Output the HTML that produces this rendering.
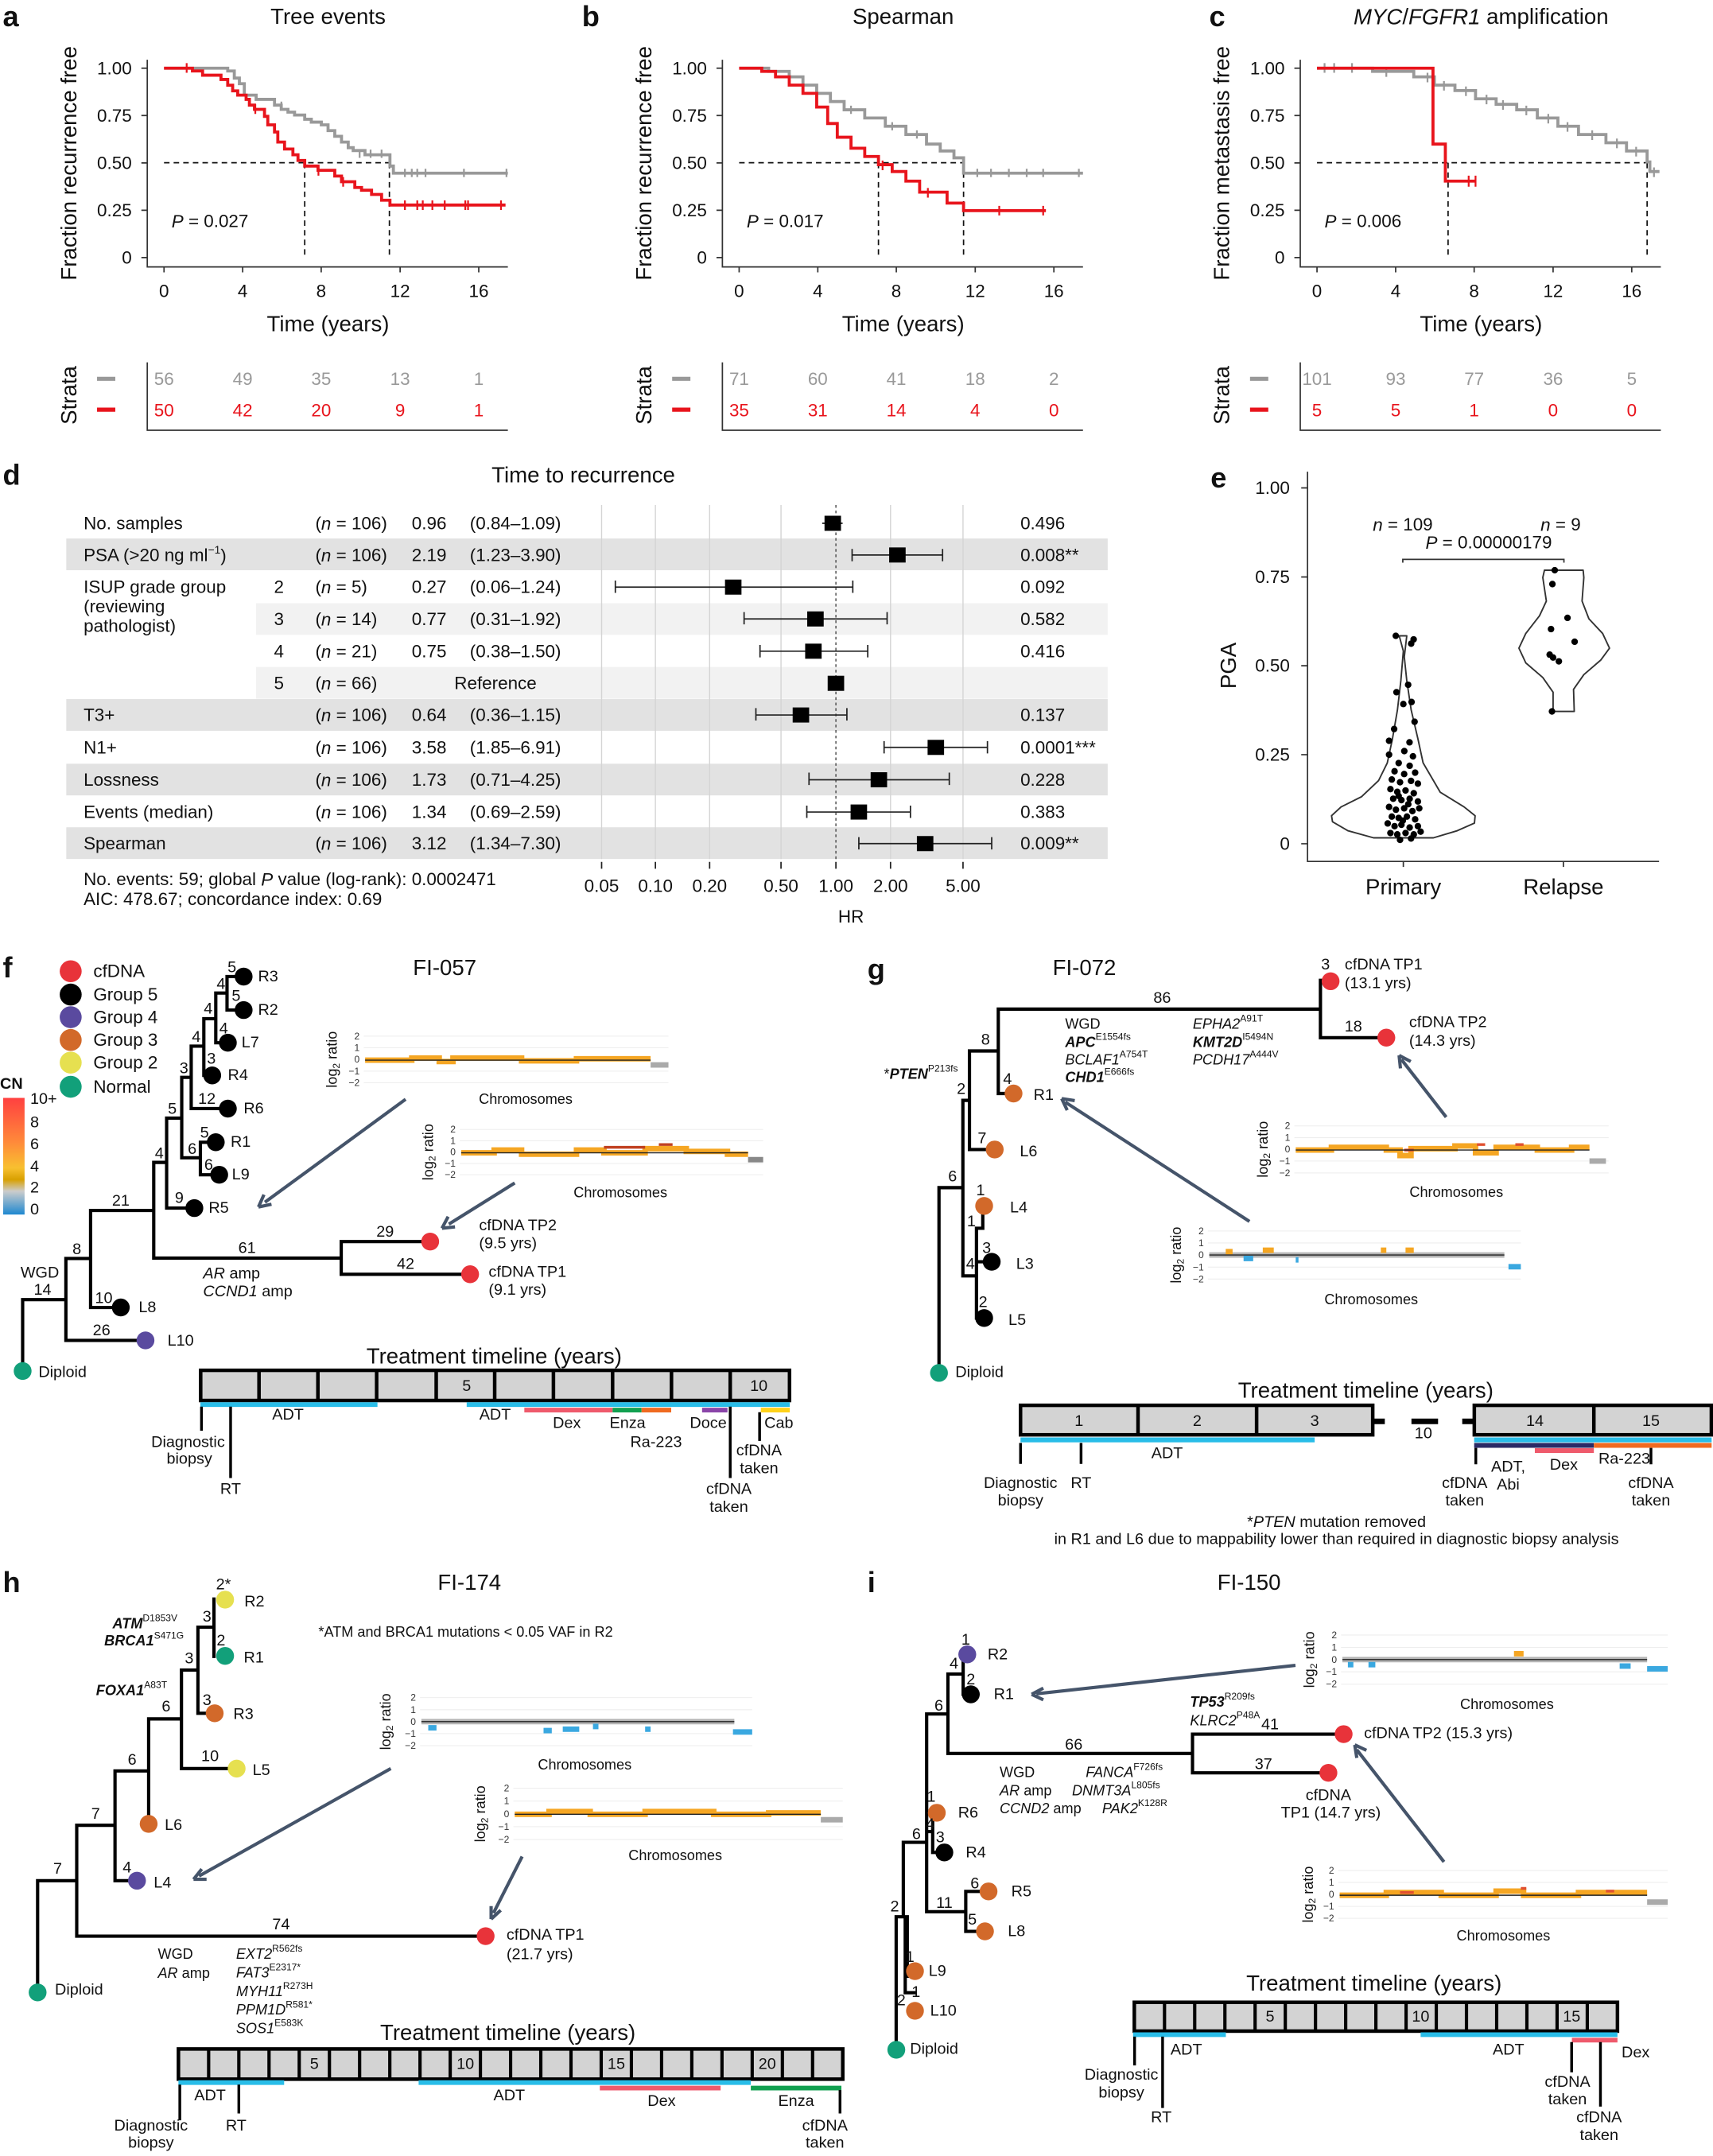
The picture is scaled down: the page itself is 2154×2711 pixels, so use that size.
<!DOCTYPE html>
<html><head><meta charset="utf-8"><style>
html,body{margin:0;padding:0;background:#fff}
svg{display:block}
text{font-family:"Liberation Sans",sans-serif;dominant-baseline:central;fill:#111}
.n{font-family:"Liberation Sans Narrow","Liberation Sans",sans-serif}
.b{font-weight:bold}
.i{font-style:italic}
.m{text-anchor:middle}
.e{text-anchor:end}
.L{font-size:21px;font-weight:bold}
.t{font-size:16px}
.k{font-size:13px}
.s{font-size:11.5px}
.x{font-size:10.5px}
.y{font-size:7px;fill:#333}
</style></head><body>
<svg width="2154" height="2711" viewBox="0 0 1248 1571" preserveAspectRatio="none" xmlns="http://www.w3.org/2000/svg">
<rect width="1248" height="1571" fill="#fff"/>

<!-- ================= a ================= -->
<text x="2" y="12" class="L">a</text>
<text x="239" y="12" class="t m">Tree events</text>
<text class="t m" transform="translate(50,119) rotate(-90)">Fraction recurrence free</text>
<g stroke="#333" stroke-width="1" fill="none">
<path d="M107.3,43.5 V194.5 H370"/>
<path d="M103,49.7H107.3M103,84.2H107.3M103,118.7H107.3M103,153.2H107.3M103,187.7H107.3"/>
<path d="M119.5,194.5v4M176.8,194.5v4M234,194.5v4M291.5,194.5v4M348.8,194.5v4"/>
</g>
<g class="k"><text x="96" y="49.7" class="e k">1.00</text><text x="96" y="84.2" class="e k">0.75</text><text x="96" y="118.7" class="e k">0.50</text><text x="96" y="153.2" class="e k">0.25</text><text x="96" y="187.7" class="e k">0</text>
<text x="119.5" y="212" class="m k">0</text><text x="176.8" y="212" class="m k">4</text><text x="234" y="212" class="m k">8</text><text x="291.5" y="212" class="m k">12</text><text x="348.8" y="212" class="m k">16</text></g>
<text x="239" y="236" class="t m">Time (years)</text>
<path d="M119.5,118.6H283.7M222,118.6V187.7M283.7,118.6V187.7" stroke="#111" stroke-dasharray="4,3" fill="none"/>
<path d="M119.5,49.7 H165.9 V51.7 H170.7 V56.9 H174.4 V61 H178 V69.3 H186.6 V72.4 H200 V76.6 H204.9 V79.7 H209.8 V81.7 H214.6 V83.8 H222 V86.9 H226.8 V89 H234.1 V91 H239 V95.2 H243.9 V99.3 H248.8 V103.5 H253.7 V107.6 H257.3 V109.7 H265.9 V112.8 H284.1 V121 H286.6 V126.2 H370" stroke="#999" stroke-width="2.2" fill="none"/>
<path d="M295,123v6M300,123v6M304,123v6M310,123v6M338,123v6M369,123v6M205,74v6M262,109v6M270,109v6M278,109v6" stroke="#999" stroke-width="1.3"/>
<path d="M119.5,49.7 H140.2 V51.7 H147.6 V54.8 H161 V57.9 H165.9 V62.1 H169.5 V66.2 H173.2 V69.3 H179.3 V72.4 H181.7 V76.6 H185.4 V79.7 H192.7 V84.8 H195.1 V91 H200 V96.2 H202.4 V103.5 H207.3 V108.6 H213.4 V112.8 H217.1 V116.9 H222 V121 H231.7 V124.1 H243.9 V128.3 H248.8 V132.4 H258.5 V136.6 H263.4 V138.6 H270.7 V141.7 H278 V145.9 H284.1 V149.4 H368.3" stroke="#e8141c" stroke-width="2.2" fill="none"/>
<path d="M136,46v7M295,146v7M304,146v7M308,146v7M315,146v7M324,146v7M339,146v7M341,146v7M365,146v7M186,76v7M232,121v7M250,129v7" stroke="#e8141c" stroke-width="1.3"/>
<text x="125" y="161" class="k"><tspan class="i">P</tspan> = 0.027</text>
<text class="t m" transform="translate(50,288) rotate(-90)">Strata</text>
<path d="M70.7,276H84" stroke="#999" stroke-width="3"/><path d="M70.7,298.5H84" stroke="#e8141c" stroke-width="3"/>
<path d="M107.3,264V313.5H370" stroke="#333" fill="none"/>
<text x="119.5" y="276" class="m k" style="fill:#999">56</text><text x="176.8" y="276" class="m k" style="fill:#999">49</text><text x="234" y="276" class="m k" style="fill:#999">35</text><text x="291.5" y="276" class="m k" style="fill:#999">13</text><text x="348.8" y="276" class="m k" style="fill:#999">1</text>
<text x="119.5" y="299" class="m k" style="fill:#e8141c">50</text><text x="176.8" y="299" class="m k" style="fill:#e8141c">42</text><text x="234" y="299" class="m k" style="fill:#e8141c">20</text><text x="291.5" y="299" class="m k" style="fill:#e8141c">9</text><text x="348.8" y="299" class="m k" style="fill:#e8141c">1</text>

<!-- ================= b ================= -->
<text x="424" y="12" class="L">b</text>
<text x="658" y="12" class="t m">Spearman</text>
<text class="t m" transform="translate(469,119) rotate(-90)">Fraction recurrence free</text>
<g stroke="#333" stroke-width="1" fill="none">
<path d="M526.3,43.5 V194.5 H789"/>
<path d="M522,49.7H526.3M522,84.2H526.3M522,118.7H526.3M522,153.2H526.3M522,187.7H526.3"/>
<path d="M538.5,194.5v4M595.8,194.5v4M653,194.5v4M710.5,194.5v4M767.8,194.5v4"/>
</g>
<text x="515" y="49.7" class="e k">1.00</text><text x="515" y="84.2" class="e k">0.75</text><text x="515" y="118.7" class="e k">0.50</text><text x="515" y="153.2" class="e k">0.25</text><text x="515" y="187.7" class="e k">0</text>
<text x="538.5" y="212" class="m k">0</text><text x="595.8" y="212" class="m k">4</text><text x="653" y="212" class="m k">8</text><text x="710.5" y="212" class="m k">12</text><text x="767.8" y="212" class="m k">16</text>
<text x="658" y="236" class="t m">Time (years)</text>
<path d="M538.5,118.6H702M640,118.6V187.7M702,118.6V187.7" stroke="#111" stroke-dasharray="4,3" fill="none"/>
<path d="M538.5,49.7 H560 V52 H575 V56 H585 V62 H595 V68 H605 V74 H615 V80 H630 V86 H645 V92 H660 V98 H675 V105 H685 V110 H695 V115 H702 V126.2 H789" stroke="#999" stroke-width="2.2" fill="none"/>
<path d="M712,123v6M722,123v6M735,123v6M748,123v6M760,123v6M786,123v6M620,77v6M650,89v6M668,95v6" stroke="#999" stroke-width="1.3"/>
<path d="M538.5,49.7 H555 V52 H565 V56 H575 V62 H585 V68 H595 V78 H603 V90 H610 V100 H620 V108 H630 V114 H640 V120 H650 V125 H660 V132 H670 V140 H690 V148 H702 V153.5 H762" stroke="#e8141c" stroke-width="2.2" fill="none"/>
<path d="M728,150v7M760,150v7M676,137v7M643,117v7" stroke="#e8141c" stroke-width="1.3"/>
<text x="544" y="161" class="k"><tspan class="i">P</tspan> = 0.017</text>
<text class="t m" transform="translate(469,288) rotate(-90)">Strata</text>
<path d="M489.7,276H503" stroke="#999" stroke-width="3"/><path d="M489.7,298.5H503" stroke="#e8141c" stroke-width="3"/>
<path d="M526.3,264V313.5H789" stroke="#333" fill="none"/>
<text x="538.5" y="276" class="m k" style="fill:#999">71</text><text x="595.8" y="276" class="m k" style="fill:#999">60</text><text x="653" y="276" class="m k" style="fill:#999">41</text><text x="710.5" y="276" class="m k" style="fill:#999">18</text><text x="767.8" y="276" class="m k" style="fill:#999">2</text>
<text x="538.5" y="299" class="m k" style="fill:#e8141c">35</text><text x="595.8" y="299" class="m k" style="fill:#e8141c">31</text><text x="653" y="299" class="m k" style="fill:#e8141c">14</text><text x="710.5" y="299" class="m k" style="fill:#e8141c">4</text><text x="767.8" y="299" class="m k" style="fill:#e8141c">0</text>

<!-- ================= c ================= -->
<text x="881" y="12" class="L">c</text>
<text x="1079" y="12" class="t m"><tspan class="i">MYC</tspan>/<tspan class="i">FGFR1</tspan> amplification</text>
<text class="t m" transform="translate(890,119) rotate(-90)">Fraction metastasis free</text>
<g stroke="#333" stroke-width="1" fill="none">
<path d="M947.3,43.5 V194.5 H1210"/>
<path d="M943,49.7H947.3M943,84.2H947.3M943,118.7H947.3M943,153.2H947.3M943,187.7H947.3"/>
<path d="M959.5,194.5v4M1016.8,194.5v4M1074,194.5v4M1131.5,194.5v4M1188.8,194.5v4"/>
</g>
<text x="936" y="49.7" class="e k">1.00</text><text x="936" y="84.2" class="e k">0.75</text><text x="936" y="118.7" class="e k">0.50</text><text x="936" y="153.2" class="e k">0.25</text><text x="936" y="187.7" class="e k">0</text>
<text x="959.5" y="212" class="m k">0</text><text x="1016.8" y="212" class="m k">4</text><text x="1074" y="212" class="m k">8</text><text x="1131.5" y="212" class="m k">12</text><text x="1188.8" y="212" class="m k">16</text>
<text x="1079" y="236" class="t m">Time (years)</text>
<path d="M959.5,118.6H1200M1055,118.6V187.7M1200,118.6V187.7" stroke="#111" stroke-dasharray="4,3" fill="none"/>
<path d="M959.5,49.7 H1000 V52 H1030 V56 H1045 V62 H1060 V66 H1075 V72 H1090 V76 H1105 V80 H1120 V86 H1135 V92 H1150 V98 H1170 V104 H1185 V110 H1200 V118 H1202 V125 H1209" stroke="#999" stroke-width="2.2" fill="none"/>
<path d="M965,46v7M972,46v7M985,46v7M1010,49v7M1040,53v7M1052,59v7M1068,63v7M1083,69v7M1095,73v7M1112,77v7M1128,83v7M1142,89v7M1160,95v7M1178,101v7M1192,107v7M1205,122v7" stroke="#999" stroke-width="1.3"/>
<path d="M959.5,49.7 H1044 V105 H1053 V132 H1075" stroke="#e8141c" stroke-width="2.2" fill="none"/>
<path d="M1070,128v8M1075,128v8" stroke="#e8141c" stroke-width="1.3"/>
<text x="965" y="161" class="k"><tspan class="i">P</tspan> = 0.006</text>
<text class="t m" transform="translate(890,288) rotate(-90)">Strata</text>
<path d="M910.7,276H924" stroke="#999" stroke-width="3"/><path d="M910.7,298.5H924" stroke="#e8141c" stroke-width="3"/>
<path d="M947.3,264V313.5H1210" stroke="#333" fill="none"/>
<text x="959.5" y="276" class="m k" style="fill:#999">101</text><text x="1016.8" y="276" class="m k" style="fill:#999">93</text><text x="1074" y="276" class="m k" style="fill:#999">77</text><text x="1131.5" y="276" class="m k" style="fill:#999">36</text><text x="1188.8" y="276" class="m k" style="fill:#999">5</text>
<text x="959.5" y="299" class="m k" style="fill:#e8141c">5</text><text x="1016.8" y="299" class="m k" style="fill:#e8141c">5</text><text x="1074" y="299" class="m k" style="fill:#e8141c">1</text><text x="1131.5" y="299" class="m k" style="fill:#e8141c">0</text><text x="1188.8" y="299" class="m k" style="fill:#e8141c">0</text>

<!-- ================= d ================= -->
<text x="2" y="346" class="L">d</text>
<text x="425" y="346" class="t m">Time to recurrence</text>
<rect x="48.3" y="392.4" width="758.7" height="23.1" fill="#e2e2e2"/>
<rect x="186.5" y="439.5" width="620.5" height="23.1" fill="#f2f2f2"/>
<rect x="186.5" y="486" width="620.5" height="23.1" fill="#f2f2f2"/>
<rect x="48.3" y="509.4" width="758.7" height="23.1" fill="#e2e2e2"/>
<rect x="48.3" y="556.5" width="758.7" height="23.1" fill="#e2e2e2"/>
<rect x="48.3" y="602.8" width="758.7" height="23.1" fill="#e2e2e2"/>
<g stroke="#d4d4d4" stroke-width="0.8">
<path d="M438.3,368V626M477.5,368V626M517,368V626M569,368V626M648.8,368V626M701.6,368V626"/></g>
<path d="M609,368V626" stroke="#444" stroke-dasharray="2,2" stroke-width="0.8"/>
<path d="M438.3,628v5M477.5,628v5M517,628v5M569,628v5M609,628v5M648.8,628v5M701.6,628v5" stroke="#222"/>
<g class="n" font-size="13">
<text x="438.3" y="645.5" class="m n">0.05</text><text x="477.5" y="645.5" class="m n">0.10</text><text x="517" y="645.5" class="m n">0.20</text><text x="569" y="645.5" class="m n">0.50</text><text x="609" y="645.5" class="m n">1.00</text><text x="648.8" y="645.5" class="m n">2.00</text><text x="701.6" y="645.5" class="m n">5.00</text>
</g>
<text x="620" y="668" class="k m">HR</text>
<g stroke="#222" stroke-width="1" fill="none">
<path d="M599,381.3H613.9M653.8,404.4H620.8M686.7,404.4H620.8M448.3,427.8H621.3M542.1,451H646.3M553.7,474.5H632.2M550.7,521H617M644.1,544.6H719.4M589.4,568.2H691.6M587.8,591.7H663.3M625.7,614.7H722.5"/>
<path d="M620.8,400v9M686.7,400v9M448.3,423v9M621.3,423v9M542.1,446v9M646.3,446v9M553.7,470v9M632.2,470v9M550.7,516v9M617,516v9M644.1,540v9M719.4,540v9M589.4,563v9M691.6,563v9M587.8,587v9M663.3,587v9M625.7,610v9M722.5,610v9"/>
</g>
<g fill="#000">
<rect x="600.7" y="375.8" width="12" height="11"/><rect x="647.8" y="398.9" width="12" height="11"/><rect x="528.2" y="422.3" width="12" height="11"/><rect x="588.1" y="445.5" width="12" height="11"/><rect x="586.6" y="469" width="12" height="11"/><rect x="603" y="492.4" width="12" height="11"/><rect x="577.5" y="515.5" width="12" height="11"/><rect x="675.8" y="539.1" width="12" height="11"/><rect x="634.3" y="562.7" width="12" height="11"/><rect x="619.7" y="586.2" width="12" height="11"/><rect x="668" y="609.2" width="12" height="11"/>
</g>
<g font-size="13">
<text x="60.9" y="381.3" class="n">No. samples</text>
<text x="60.9" y="404.4" class="n">PSA (&gt;20 ng ml<tspan font-size="8" dy="-4">−1</tspan><tspan dy="4">)</tspan></text>
<text x="60.9" y="427.8" class="n">ISUP grade group</text>
<text x="60.9" y="442" class="n">(reviewing</text>
<text x="60.9" y="456" class="n">pathologist)</text>
<text x="60.9" y="521" class="n">T3+</text>
<text x="60.9" y="544.6" class="n">N1+</text>
<text x="60.9" y="568.2" class="n">Lossness</text>
<text x="60.9" y="591.7" class="n">Events (median)</text>
<text x="60.9" y="614.7" class="n">Spearman</text>
<text x="199.6" y="427.8" class="n">2</text><text x="199.6" y="451" class="n">3</text><text x="199.6" y="474.5" class="n">4</text><text x="199.6" y="497.9" class="n">5</text>
<text x="229.7" y="381.3" class="n">(<tspan class="i">n</tspan> = 106)</text>
<text x="229.7" y="404.4" class="n">(<tspan class="i">n</tspan> = 106)</text>
<text x="229.7" y="427.8" class="n">(<tspan class="i">n</tspan> = 5)</text>
<text x="229.7" y="451" class="n">(<tspan class="i">n</tspan> = 14)</text>
<text x="229.7" y="474.5" class="n">(<tspan class="i">n</tspan> = 21)</text>
<text x="229.7" y="497.9" class="n">(<tspan class="i">n</tspan> = 66)</text>
<text x="229.7" y="521" class="n">(<tspan class="i">n</tspan> = 106)</text>
<text x="229.7" y="544.6" class="n">(<tspan class="i">n</tspan> = 106)</text>
<text x="229.7" y="568.2" class="n">(<tspan class="i">n</tspan> = 106)</text>
<text x="229.7" y="591.7" class="n">(<tspan class="i">n</tspan> = 106)</text>
<text x="229.7" y="614.7" class="n">(<tspan class="i">n</tspan> = 106)</text>
<text x="300" y="381.3" class="n">0.96</text><text x="342.3" y="381.3" class="n">(0.84–1.09)</text>
<text x="300" y="404.4" class="n">2.19</text><text x="342.3" y="404.4" class="n">(1.23–3.90)</text>
<text x="300" y="427.8" class="n">0.27</text><text x="342.3" y="427.8" class="n">(0.06–1.24)</text>
<text x="300" y="451" class="n">0.77</text><text x="342.3" y="451" class="n">(0.31–1.92)</text>
<text x="300" y="474.5" class="n">0.75</text><text x="342.3" y="474.5" class="n">(0.38–1.50)</text>
<text x="331" y="497.9" class="n">Reference</text>
<text x="300" y="521" class="n">0.64</text><text x="342.3" y="521" class="n">(0.36–1.15)</text>
<text x="300" y="544.6" class="n">3.58</text><text x="342.3" y="544.6" class="n">(1.85–6.91)</text>
<text x="300" y="568.2" class="n">1.73</text><text x="342.3" y="568.2" class="n">(0.71–4.25)</text>
<text x="300" y="591.7" class="n">1.34</text><text x="342.3" y="591.7" class="n">(0.69–2.59)</text>
<text x="300" y="614.7" class="n">3.12</text><text x="342.3" y="614.7" class="n">(1.34–7.30)</text>
<text x="743.4" y="381.3" class="n">0.496</text>
<text x="743.4" y="404.4" class="n">0.008**</text>
<text x="743.4" y="427.8" class="n">0.092</text>
<text x="743.4" y="451" class="n">0.582</text>
<text x="743.4" y="474.5" class="n">0.416</text>
<text x="743.4" y="521" class="n">0.137</text>
<text x="743.4" y="544.6" class="n">0.0001***</text>
<text x="743.4" y="568.2" class="n">0.228</text>
<text x="743.4" y="591.7" class="n">0.383</text>
<text x="743.4" y="614.7" class="n">0.009**</text>
<text x="60.9" y="640.7" class="n">No. events: 59; global <tspan class="i">P</tspan> value (log-rank): 0.0002471</text>
<text x="60.9" y="655" class="n">AIC: 478.67; concordance index: 0.69</text>
</g>

<!-- ================= e ================= -->
<text x="882" y="348" class="L">e</text>
<path d="M952.6,343.7V627.7H1208.7" stroke="#333" fill="none"/>
<path d="M948,355.5h4.6M948,420.4h4.6M948,485.1h4.6M948,549.9h4.6M948,614.8h4.6M1022.4,627.7v4M1139,627.7v4" stroke="#333"/>
<text x="939.7" y="355.5" class="e k">1.00</text><text x="939.7" y="420.4" class="e k">0.75</text><text x="939.7" y="485.1" class="e k">0.50</text><text x="939.7" y="549.9" class="e k">0.25</text><text x="939.7" y="614.8" class="e k">0</text>
<text class="t m" transform="translate(895,485) rotate(-90)">PGA</text>
<text x="1022.4" y="646" class="t m">Primary</text><text x="1139" y="646" class="t m">Relapse</text>
<text x="1022" y="382.3" class="k m"><tspan class="i">n</tspan> = 109</text>
<text x="1137" y="382.3" class="k m"><tspan class="i">n</tspan> = 9</text>
<text x="1084.6" y="395.1" class="k m"><tspan class="i">P</tspan> = 0.00000179</text>
<path d="M1022,410V407.6H1139.4V410" stroke="#333" fill="none"/>
<path d="M1000.7,610.5 L982,605.3 L970.8,598.8 L970.1,594.4 L977,588 L992,580.5 L1004.4,568.7 L1010.7,555.9 L1014.4,538.7 L1018.1,517.3 L1020.6,495.9 L1022.4,474.4 L1019.4,463.3 L1024.9,463.3 L1023.1,478.7 L1024.9,495.9 L1028.1,517.3 L1033.1,538.7 L1036.8,555.9 L1049.3,577.3 L1066.7,588 L1074.7,594.4 L1074.2,599.8 L1061.7,605.3 L1044.3,610.5 Z" fill="none" stroke="#333" stroke-width="1.1" stroke-linejoin="round"/>
<path d="M1125.2,415.5 L1124,420.8 L1126.6,438 L1121.6,448.7 L1111.6,461.6 L1106.6,472.3 L1111.6,483 L1124,493.7 L1131.5,504.4 L1131.5,518.4 L1146.9,518.4 L1146.4,502.3 L1153.9,491.6 L1166.3,480.9 L1172.6,472.3 L1167.6,461.6 L1157.6,450.9 L1152.6,438 L1153.9,420.8 L1153.4,415.5 Z" fill="none" stroke="#333" stroke-width="1.1" stroke-linejoin="round"/>
<g fill="#000">
<circle cx="1132.7" cy="415.5" r="2.4"/><circle cx="1131" cy="425.6" r="2.4"/><circle cx="1142" cy="450.2" r="2.4"/><circle cx="1130" cy="458.4" r="2.4"/><circle cx="1147.2" cy="467.6" r="2.4"/><circle cx="1129" cy="477" r="2.4"/><circle cx="1131.5" cy="479.1" r="2.4"/><circle cx="1135.7" cy="481.9" r="2.4"/><circle cx="1130.7" cy="518.4" r="2.4"/>
<circle cx="1016.9" cy="463.3" r="2.4"/><circle cx="1029.9" cy="465.9" r="2.4"/><circle cx="1028.1" cy="469" r="2.4"/><circle cx="1017.4" cy="504.4" r="2.4"/><circle cx="1025.9" cy="499" r="2.4"/><circle cx="1022.4" cy="513" r="2.4"/><circle cx="1028.4" cy="511.5" r="2.4"/><circle cx="1030.6" cy="525.9" r="2.4"/><circle cx="1015.7" cy="531.2" r="2.4"/><circle cx="1012" cy="539.8" r="2.4"/><circle cx="1026.9" cy="540.9" r="2.4"/><circle cx="1012" cy="549.9" r="2.4"/><circle cx="1023.1" cy="547.3" r="2.4"/><circle cx="1029.4" cy="551.1" r="2.4"/>
<circle cx="1019" cy="556" r="2.4"/><circle cx="1027" cy="558" r="2.4"/><circle cx="1016" cy="562" r="2.4"/><circle cx="1023" cy="564" r="2.4"/><circle cx="1031" cy="563" r="2.4"/><circle cx="1014" cy="568" r="2.4"/><circle cx="1020" cy="570" r="2.4"/><circle cx="1028" cy="569" r="2.4"/><circle cx="1033" cy="571" r="2.4"/><circle cx="1013" cy="575" r="2.4"/><circle cx="1018" cy="577" r="2.4"/><circle cx="1024" cy="576" r="2.4"/><circle cx="1030" cy="578" r="2.4"/><circle cx="1015" cy="582" r="2.4"/><circle cx="1021" cy="583" r="2.4"/><circle cx="1027" cy="582" r="2.4"/><circle cx="1033" cy="584" r="2.4"/><circle cx="1012" cy="588" r="2.4"/><circle cx="1017" cy="590" r="2.4"/><circle cx="1023" cy="589" r="2.4"/><circle cx="1029" cy="591" r="2.4"/><circle cx="1034" cy="589" r="2.4"/><circle cx="1014" cy="595" r="2.4"/><circle cx="1019" cy="596" r="2.4"/><circle cx="1025" cy="595" r="2.4"/><circle cx="1031" cy="597" r="2.4"/><circle cx="1011" cy="600" r="2.4"/><circle cx="1016" cy="602" r="2.4"/><circle cx="1021" cy="601" r="2.4"/><circle cx="1027" cy="603" r="2.4"/><circle cx="1033" cy="602" r="2.4"/><circle cx="1013" cy="607" r="2.4"/><circle cx="1018" cy="608" r="2.4"/><circle cx="1024" cy="607" r="2.4"/><circle cx="1030" cy="608" r="2.4"/><circle cx="1035" cy="606" r="2.4"/><circle cx="1020" cy="612" r="2.4"/><circle cx="1028" cy="611" r="2.4"/><circle cx="1022" cy="598" r="2.4"/><circle cx="1026" cy="586" r="2.4"/><circle cx="1019" cy="580" r="2.4"/>
</g>

<!-- ================= f ================= -->
<text x="2" y="705" class="L">f</text>
<text x="324" y="705" class="t m">FI-057</text>
<g class="k">
<circle cx="51.5" cy="707.7" r="8" fill="#e8333a"/><text x="68" y="707.7" class="k">cfDNA</text>
<circle cx="51.5" cy="724.7" r="8" fill="#000"/><text x="68" y="724.7" class="k">Group 5</text>
<circle cx="51.5" cy="741.2" r="8" fill="#5a4a9f"/><text x="68" y="741.2" class="k">Group 4</text>
<circle cx="51.5" cy="757.8" r="8" fill="#d2692a"/><text x="68" y="757.8" class="k">Group 3</text>
<circle cx="51.5" cy="774.3" r="8" fill="#e6e050"/><text x="68" y="774.3" class="k">Group 2</text>
<circle cx="51.5" cy="791.9" r="8" fill="#12a07a"/><text x="68" y="791.9" class="k">Normal</text>
</g>
<text x="0" y="789.8" class="s b">CN</text>
<defs><linearGradient id="cn" x1="0" y1="0" x2="0" y2="1">
<stop offset="0" stop-color="#ff4040"/><stop offset="0.38" stop-color="#ff8a3a"/><stop offset="0.6" stop-color="#f8c030"/><stop offset="0.7" stop-color="#d8a000"/><stop offset="0.8" stop-color="#cccccc"/><stop offset="1" stop-color="#1e88d0"/></linearGradient></defs>
<rect x="2.3" y="800" width="15.6" height="85" fill="url(#cn)"/>
<text x="22" y="801" class="s">10+</text><text x="22" y="818" class="s">8</text><text x="22" y="834" class="s">6</text><text x="22" y="850" class="s">4</text><text x="22" y="865.4" class="s">2</text><text x="22" y="881.5" class="s">0</text>
<g stroke="#000" stroke-width="2.4" fill="none" stroke-linecap="square">
<path d="M16.5,999V947H48M48,917V976.7M48,917H66M48,976.7H106M66,882V952.7H88M66,882H112M112,847V916.7H248.6M248.6,904.7V928.5M248.6,904.7H313.4M248.6,928.5H342.5M112,847H121.4M121.4,814.7V880.3H141.6M121.4,814.7H132.4M132.4,785V843.6H146M146,832.3V856M146,832.3H157.2M146,856H159.7M132.4,785H139.3M139.3,762.3V807.8H166M139.3,762.3H148.5M148.5,742.3V783.6H154.6M148.5,742.3H157.2M157.2,723.6V759.8H166M157.2,723.6H165.4M165.4,711.6V736H177.5M165.4,711.6H177.5"/>
</g>
<g>
<circle cx="16.5" cy="999" r="6.5" fill="#12a07a"/><circle cx="106" cy="976.7" r="6.5" fill="#5a4a9f"/><circle cx="88" cy="952.7" r="6.5" fill="#000"/><circle cx="141.6" cy="880.3" r="6.5" fill="#000"/><circle cx="157.2" cy="832.3" r="6.5" fill="#000"/><circle cx="159.7" cy="856" r="6.5" fill="#000"/><circle cx="166" cy="807.8" r="6.5" fill="#000"/><circle cx="154.6" cy="783.6" r="6.5" fill="#000"/><circle cx="166" cy="759.8" r="6.5" fill="#000"/><circle cx="177.5" cy="711.6" r="6.5" fill="#000"/><circle cx="177.5" cy="736" r="6.5" fill="#000"/><circle cx="313.4" cy="904.7" r="6.5" fill="#e8333a"/><circle cx="342.5" cy="928.5" r="6.5" fill="#e8333a"/>
</g>
<g class="s">
<text x="29" y="927.5" class="s m">WGD</text><text x="31" y="940" class="s m">14</text>
<text x="56" y="910.5" class="s m">8</text><text x="74" y="969.5" class="s m">26</text><text x="75.6" y="946" class="s m">10</text><text x="88" y="875" class="s m">21</text><text x="180" y="909.5" class="s m">61</text><text x="280.6" y="897.5" class="s m">29</text><text x="295.5" y="921" class="s m">42</text>
<text x="116" y="840.5" class="s m">4</text><text x="130.6" y="873" class="s m">9</text><text x="125.5" y="808" class="s m">5</text><text x="140" y="837.5" class="s m">6</text><text x="149" y="825.5" class="s m">5</text><text x="152" y="849" class="s m">6</text><text x="134" y="778.5" class="s m">3</text><text x="150.7" y="801" class="s m">12</text><text x="143" y="755.7" class="s m">4</text><text x="154" y="771.6" class="s m">3</text><text x="151.7" y="735" class="s m">4</text><text x="163" y="749.5" class="s m">4</text><text x="161" y="717" class="s m">4</text><text x="169" y="705" class="s m">5</text><text x="172" y="725.7" class="s m">5</text>
<text x="28" y="1000" class="s">Diploid</text><text x="122" y="977" class="s">L10</text><text x="101" y="952.7" class="s">L8</text><text x="152" y="880.3" class="s">R5</text><text x="168" y="832.3" class="s">R1</text><text x="169" y="856" class="s">L9</text><text x="177.5" y="807.8" class="s">R6</text><text x="166" y="783.6" class="s">R4</text><text x="176" y="759.8" class="s">L7</text><text x="188" y="711.6" class="s">R3</text><text x="188" y="736" class="s">R2</text>
<text x="148" y="928" class="s"><tspan class="i">AR</tspan> amp</text><text x="148" y="941" class="s"><tspan class="i">CCND1</tspan> amp</text>
<text x="349" y="893" class="s">cfDNA TP2</text><text x="349" y="906" class="s">(9.5 yrs)</text>
<text x="356" y="927" class="s">cfDNA TP1</text><text x="356" y="940" class="s">(9.1 yrs)</text>
</g>
<!-- CN plots f -->
<g>
<path d="M265,755H487M265,763.5H487M265,780.5H487M265,789H487" stroke="#eee" stroke-width="0.6"/>
<text x="262" y="755" class="y e">2</text><text x="262" y="763.5" class="y e">1</text><text x="262" y="772" class="y e">0</text><text x="262" y="780.5" class="y e">−1</text><text x="262" y="789" class="y e">−2</text>
<text class="x m" transform="translate(242,772) rotate(-90)">log<tspan font-size="7" dy="3">2</tspan><tspan dy="-3"> ratio</tspan></text>
<path d="M266,772.5H300V771H320V773.5H330V771H380V773H420V771.5H474" stroke="#f5a623" stroke-width="4" fill="none"/>
<path d="M474,776H487" stroke="#aaa" stroke-width="4"/>
<path d="M266,772.5H474" stroke="#222" stroke-width="0.8"/>
<text x="383" y="801" class="x m">Chromosomes</text>
</g>
<g>
<path d="M335,823H556M335,831.3H556M335,847.8H556M335,856H556" stroke="#eee" stroke-width="0.6"/>
<text x="332" y="823" class="y e">2</text><text x="332" y="831.3" class="y e">1</text><text x="332" y="839.5" class="y e">0</text><text x="332" y="847.8" class="y e">−1</text><text x="332" y="856" class="y e">−2</text>
<text class="x m" transform="translate(312,839.5) rotate(-90)">log<tspan font-size="7" dy="3">2</tspan><tspan dy="-3"> ratio</tspan></text>
<path d="M336,840H360V838H380V841H420V838H440V840H470V837H500V839H530V841H545" stroke="#f5a623" stroke-width="4" fill="none"/>
<path d="M440,836H470M480,834H490" stroke="#c04020" stroke-width="2"/>
<path d="M545,845H556" stroke="#888" stroke-width="4"/>
<path d="M336,840H545" stroke="#222" stroke-width="0.8"/>
<text x="452" y="869" class="x m">Chromosomes</text>
</g>
<g stroke="#45546a" stroke-width="2.4" fill="none">
<path d="M295.5,801L193,876"/><path d="M188.3,879.5l4,-9m-4,9l9.5,-2"/>
<path d="M375,862L327,892"/><path d="M322,895l4.5,-8.5m-4.5,8.5l9.5,-1"/>
</g>
<!-- timeline f -->
<text x="360" y="988" class="t m">Treatment timeline (years)</text>
<rect x="146.2" y="998.5" width="429" height="22" fill="#d3d3d3" stroke="#000" stroke-width="2.6"/>
<path d="M188.7,998.5v22M231.6,998.5v22M274.4,998.5v22M317.8,998.5v22M360.4,998.5v22M403.2,998.5v22M446.3,998.5v22M489.2,998.5v22M532,998.5v22" stroke="#000" stroke-width="2.6"/>
<text x="340" y="1010" class="s m">5</text><text x="552.8" y="1010" class="s m">10</text>
<path d="M146,1023.5H275M340,1023.5H575.4" stroke="#29bde8" stroke-width="3.4"/>
<path d="M382,1027.5H446.3" stroke="#ef5a6c" stroke-width="3.4"/><path d="M446.3,1027.5H467.4" stroke="#11a050" stroke-width="3.4"/><path d="M467.4,1027.5H489" stroke="#f06a20" stroke-width="3.4"/><path d="M511.5,1027.5H530" stroke="#8a44a8" stroke-width="3.4"/><path d="M554.3,1027.5H575.4" stroke="#ffd21a" stroke-width="3.4"/>
<path d="M146.8,1025V1042.5M168,1025V1077M532,1025V1077M553.4,1029V1050" stroke="#000" stroke-width="2"/>
<g class="s"><text x="209.8" y="1031" class="s m">ADT</text><text x="360.7" y="1031" class="s m">ADT</text><text x="413" y="1037" class="s m">Dex</text><text x="457.2" y="1037" class="s m">Enza</text><text x="478" y="1051" class="s m">Ra-223</text><text x="516" y="1037" class="s m">Doce</text><text x="567.4" y="1037" class="s m">Cab</text>
<text x="137" y="1051" class="s m">Diagnostic</text><text x="138" y="1063" class="s m">biopsy</text><text x="168" y="1085" class="s m">RT</text>
<text x="553" y="1057" class="s m">cfDNA</text><text x="553" y="1070" class="s m">taken</text><text x="531" y="1085" class="s m">cfDNA</text><text x="531" y="1098" class="s m">taken</text></g>

<!-- ================= g ================= -->
<text x="632" y="706" class="L">g</text>
<text x="790" y="705" class="t m">FI-072</text>
<g stroke="#000" stroke-width="2.4" fill="none" stroke-linecap="square">
<path d="M684.1,1000V865.4H701.5M701.5,801.8V929.7M701.5,801.8H706.3M706.3,765.8V837.6H724.7M706.3,765.8H727.3M727.3,735.3V796.8H738.4M727.3,735.3H962M962,714.3V756.1H1010M962,714.3H969.4M701.5,929.7H711.4M711.4,895V960.4H717M711.4,919.4H722.5M711.4,895H716V878.7"/>
</g>
<circle cx="684.1" cy="1000.4" r="6.5" fill="#12a07a"/><circle cx="724.7" cy="837.6" r="6.5" fill="#d2692a"/><circle cx="738.4" cy="796.8" r="6.5" fill="#d2692a"/><circle cx="969.4" cy="715" r="6.5" fill="#e8333a"/><circle cx="1010" cy="756.1" r="6.5" fill="#e8333a"/><circle cx="717" cy="878.7" r="6.5" fill="#d2692a"/><circle cx="722.5" cy="919.4" r="6.5" fill="#000"/><circle cx="717" cy="960.4" r="6.5" fill="#000"/>
<g class="s">
<text x="694" y="857.5" class="s m">6</text><text x="700.3" y="793.6" class="s m">2</text><text x="715.5" y="829.6" class="s m">7</text><text x="718" y="757.6" class="s m">8</text><text x="734" y="786.5" class="s m">4</text><text x="846.7" y="727.2" class="s m">86</text><text x="965.7" y="703" class="s m">3</text><text x="986" y="748" class="s m">18</text><text x="707" y="921" class="s m">4</text><text x="714.4" y="867.6" class="s m">1</text><text x="707.7" y="890" class="s m">1</text><text x="718.8" y="909.4" class="s m">3</text><text x="716.2" y="949" class="s m">2</text>
<text x="696" y="1000" class="s">Diploid</text><text x="743" y="839" class="s">L6</text><text x="753" y="798" class="s">R1</text><text x="735.8" y="880" class="s">L4</text><text x="740.3" y="921" class="s">L3</text><text x="734.7" y="962" class="s">L5</text>
<text x="979.7" y="703" class="s">cfDNA TP1</text><text x="979.7" y="716.5" class="s">(13.1 yrs)</text>
<text x="1026.6" y="745" class="s">cfDNA TP2</text><text x="1026.6" y="758.7" class="s">(14.3 yrs)</text>
</g>
<g class="x">
<text x="644" y="782.5" class="x">*<tspan class="b i">PTEN</tspan><tspan font-size="7" dy="-4">P213fs</tspan></text>
<text x="776" y="746" class="x">WGD</text>
<text x="776" y="759.3" class="x"><tspan class="b i">APC</tspan><tspan font-size="7" dy="-4">E1554fs</tspan></text>
<text x="776" y="772.2" class="x"><tspan class="i">BCLAF1</tspan><tspan font-size="7" dy="-4">A754T</tspan></text>
<text x="776" y="785" class="x"><tspan class="b i">CHD1</tspan><tspan font-size="7" dy="-4">E666fs</tspan></text>
<text x="869" y="746" class="x"><tspan class="i">EPHA2</tspan><tspan font-size="7" dy="-4">A91T</tspan></text>
<text x="869" y="759.3" class="x"><tspan class="b i">KMT2D</tspan><tspan font-size="7" dy="-4">I5494N</tspan></text>
<text x="869" y="772.2" class="x"><tspan class="i">PCDH17</tspan><tspan font-size="7" dy="-4">A444V</tspan></text>
</g>
<g>
<path d="M943,820.4H1172M943,829H1172M943,846H1172M943,854.7H1172" stroke="#eee" stroke-width="0.6"/>
<text x="940" y="820.4" class="y e">2</text><text x="940" y="829" class="y e">1</text><text x="940" y="837.5" class="y e">0</text><text x="940" y="846" class="y e">−1</text><text x="940" y="854.7" class="y e">−2</text>
<text class="x m" transform="translate(920,837.5) rotate(-90)">log<tspan font-size="7" dy="3">2</tspan><tspan dy="-3"> ratio</tspan></text>
<path d="M944,838H970V836H1010V838H1020V842H1028V837H1060V835H1075V840H1090V836H1120V838H1145V836H1158" stroke="#f5a623" stroke-width="4" fill="none"/>
<path d="M1023,838H1030M1076,834H1082M1104,834H1110" stroke="#e05030" stroke-width="2"/>
<path d="M1158,846H1170" stroke="#aaa" stroke-width="4"/>
<path d="M944,838H1158" stroke="#222" stroke-width="0.8"/>
<text x="1061" y="868.6" class="x m">Chromosomes</text>
</g>
<g>
<path d="M880,897H1108M880,905.7H1108M880,923.3H1108M880,932H1108" stroke="#eee" stroke-width="0.6"/>
<text x="877" y="897" class="y e">2</text><text x="877" y="905.7" class="y e">1</text><text x="877" y="914.5" class="y e">0</text><text x="877" y="923.3" class="y e">−1</text><text x="877" y="932" class="y e">−2</text>
<text class="x m" transform="translate(857,914.5) rotate(-90)">log<tspan font-size="7" dy="3">2</tspan><tspan dy="-3"> ratio</tspan></text>
<path d="M881,914.5H1096" stroke="#b5b5b5" stroke-width="4"/>
<path d="M893,912H898M920,911H928M1006,911H1010M1024,911H1030" stroke="#f5a623" stroke-width="4"/>
<path d="M906,917H913M944,918H946M1099,923H1108" stroke="#3aa8e0" stroke-width="4"/>
<path d="M881,914.5H1096" stroke="#222" stroke-width="0.8"/>
<text x="999" y="946.9" class="x m">Chromosomes</text>
</g>
<g stroke="#45546a" stroke-width="2.4" fill="none">
<path d="M1053.6,814L1021,772"/><path d="M1019.3,769l1,9.5m-1,-9.5l8.5,4.5"/>
<path d="M910.3,890L776,803"/><path d="M773.5,800.5l9.5,1.5m-9.5,-1.5l4,8.5"/>
</g>
<!-- timeline g -->
<text x="995" y="1013" class="t m">Treatment timeline (years)</text>
<rect x="743.5" y="1024" width="256.6" height="21.5" fill="#d3d3d3" stroke="#000" stroke-width="2.6"/>
<path d="M829.1,1024v21.5M915.5,1024v21.5" stroke="#000" stroke-width="2.6"/>
<rect x="1074.1" y="1024" width="172.7" height="21.5" fill="#d3d3d3" stroke="#000" stroke-width="2.6"/>
<path d="M1161.2,1024v21.5" stroke="#000" stroke-width="2.6"/>
<path d="M1000,1035.7H1008.9M1028.3,1035.7H1047.7M1065.3,1035.7H1074" stroke="#000" stroke-width="4"/>
<text x="786.1" y="1035.7" class="s m">1</text><text x="872.2" y="1035.7" class="s m">2</text><text x="957.8" y="1035.7" class="s m">3</text><text x="1037" y="1044.5" class="s m">10</text><text x="1118.2" y="1035.7" class="s m">14</text><text x="1202.8" y="1035.7" class="s m">15</text>
<path d="M743.5,1049.2H957.8M1074,1049.2H1247" stroke="#29bde8" stroke-width="3.5"/>
<path d="M1074,1053.2H1161.2" stroke="#2a2a66" stroke-width="3.5"/><path d="M1161.2,1053.2H1247" stroke="#f06a20" stroke-width="3.5"/>
<path d="M1118.2,1057H1161.2" stroke="#ef5a6c" stroke-width="3.5"/>
<path d="M743.5,1051.4V1066.7M787.6,1051.4V1066.7M1075.2,1055V1067M1202.8,1055V1067" stroke="#000" stroke-width="2"/>
<g class="s"><text x="850.3" y="1058.9" class="s m">ADT</text><text x="743.5" y="1080.8" class="s m">Diagnostic</text><text x="743.5" y="1093.6" class="s m">biopsy</text><text x="787.6" y="1080.8" class="s m">RT</text>
<text x="1067.1" y="1080.8" class="s m">cfDNA</text><text x="1067.1" y="1093.6" class="s m">taken</text><text x="1098.8" y="1069" class="s m">ADT,</text><text x="1098.8" y="1081.8" class="s m">Abi</text><text x="1139.3" y="1067.5" class="s m">Dex</text><text x="1183.4" y="1063.2" class="s m">Ra-223</text><text x="1202.8" y="1080.8" class="s m">cfDNA</text><text x="1202.8" y="1093.6" class="s m">taken</text>
<text x="973.7" y="1109.2" class="s m">*<tspan class="i">PTEN</tspan> mutation removed</text>
<text x="973.7" y="1121.5" class="s m">in R1 and L6 due to mappability lower than required in diagnostic biopsy analysis</text></g>

<!-- ================= h ================= -->
<text x="2" y="1153" class="L">h</text>
<text x="342" y="1153" class="t m">FI-174</text>
<text x="232" y="1189" class="x">*ATM and BRCA1 mutations &lt; 0.05 VAF in R2</text>
<g stroke="#000" stroke-width="2.4" fill="none" stroke-linecap="square">
<path d="M27.4,1451.8V1370.4H55.9M55.9,1330V1410.8H353.8M55.9,1330H83.8M83.8,1290.4V1370.4H99.8M83.8,1290.4H108.3M108.3,1252.5V1329M108.3,1252.5H132.2M132.2,1216.9V1288.7H172.4M132.2,1216.9H144.2M144.2,1185.7V1248.4H156.4M144.2,1185.7H155.9M155.9,1165.2V1207"/>
</g>
<circle cx="27.4" cy="1451.8" r="6.5" fill="#12a07a"/><circle cx="353.8" cy="1410.8" r="6.5" fill="#e8333a"/><circle cx="99.8" cy="1370.4" r="6.5" fill="#5a4a9f"/><circle cx="108.3" cy="1329" r="6.5" fill="#d2692a"/><circle cx="172.4" cy="1288.7" r="6.5" fill="#e6e050"/><circle cx="156.4" cy="1248.4" r="6.5" fill="#d2692a"/><circle cx="164" cy="1165.6" r="6.5" fill="#e6e050"/><circle cx="164" cy="1206.6" r="6.5" fill="#12a07a"/>
<g class="s">
<text x="42" y="1361.8" class="s m">7</text><text x="204.8" y="1402.5" class="s m">74</text><text x="69.7" y="1321.8" class="s m">7</text><text x="92.6" y="1361" class="s m">4</text><text x="96.3" y="1282.5" class="s m">6</text><text x="121" y="1243.6" class="s m">6</text><text x="153" y="1279.8" class="s m">10</text><text x="137.8" y="1208.4" class="s m">3</text><text x="150.8" y="1239" class="s m">3</text><text x="150.8" y="1178" class="s m">3</text><text x="162.8" y="1154.6" class="s m">2*</text><text x="161" y="1195.6" class="s m">2</text>
<text x="40" y="1450" class="s">Diploid</text><text x="112" y="1372" class="s">L4</text><text x="120" y="1330" class="s">L6</text><text x="184" y="1290" class="s">L5</text><text x="170" y="1249" class="s">R3</text><text x="178" y="1167" class="s">R2</text><text x="177.6" y="1208" class="s">R1</text>
<text x="369" y="1410" class="s">cfDNA TP1</text><text x="369" y="1424" class="s">(21.7 yrs)</text>
</g>
<g class="x">
<text x="82" y="1183" class="x"><tspan class="b i">ATM</tspan><tspan font-size="7" dy="-4">D1853V</tspan></text>
<text x="76" y="1195.6" class="x"><tspan class="b i">BRCA1</tspan><tspan font-size="7" dy="-4">S471G</tspan></text>
<text x="70" y="1231.8" class="x"><tspan class="b i">FOXA1</tspan><tspan font-size="7" dy="-4">A83T</tspan></text>
<text x="115" y="1423.8" class="x">WGD</text><text x="115" y="1437.7" class="x"><tspan class="i">AR</tspan> amp</text>
<text x="172" y="1423.8" class="x"><tspan class="i">EXT2</tspan><tspan font-size="7" dy="-4">R562fs</tspan></text>
<text x="172" y="1437.5" class="x"><tspan class="i">FAT3</tspan><tspan font-size="7" dy="-4">E2317*</tspan></text>
<text x="172" y="1451" class="x"><tspan class="i">MYH11</tspan><tspan font-size="7" dy="-4">R273H</tspan></text>
<text x="172" y="1464.5" class="x"><tspan class="i">PPM1D</tspan><tspan font-size="7" dy="-4">R581*</tspan></text>
<text x="172" y="1478" class="x"><tspan class="i">SOS1</tspan><tspan font-size="7" dy="-4">E583K</tspan></text>
</g>
<g>
<path d="M306,1237H548M306,1245.8H548M306,1263.2H548M306,1272H548" stroke="#eee" stroke-width="0.6"/>
<text x="303" y="1237" class="y e">2</text><text x="303" y="1245.8" class="y e">1</text><text x="303" y="1254.5" class="y e">0</text><text x="303" y="1263.2" class="y e">−1</text><text x="303" y="1272" class="y e">−2</text>
<text class="x m" transform="translate(281,1254.5) rotate(-90)">log<tspan font-size="7" dy="3">2</tspan><tspan dy="-3"> ratio</tspan></text>
<path d="M307,1254.5H535" stroke="#b5b5b5" stroke-width="4"/>
<path d="M312,1259H318M396,1261H402M410,1260H422M432,1258H436M470,1260H474M534,1262H548" stroke="#3aa8e0" stroke-width="4"/>
<path d="M307,1254.5H535" stroke="#222" stroke-width="0.8"/>
<text x="426" y="1286" class="x m">Chromosomes</text>
</g>
<g>
<path d="M374,1303H614M374,1312.4H614M374,1331H614M374,1340.4H614" stroke="#eee" stroke-width="0.6"/>
<text x="371" y="1303" class="y e">2</text><text x="371" y="1312.4" class="y e">1</text><text x="371" y="1321.7" class="y e">0</text><text x="371" y="1331" class="y e">−1</text><text x="371" y="1340.4" class="y e">−2</text>
<text class="x m" transform="translate(350,1321.7) rotate(-90)">log<tspan font-size="7" dy="3">2</tspan><tspan dy="-3"> ratio</tspan></text>
<path d="M375,1322H400V1320H430V1322H470V1320H520V1322H560V1321H598" stroke="#f5a623" stroke-width="4" fill="none"/>
<path d="M598,1326H614" stroke="#aaa" stroke-width="4"/>
<path d="M375,1322H598" stroke="#222" stroke-width="0.8"/>
<text x="492" y="1352" class="x m">Chromosomes</text>
</g>
<g stroke="#45546a" stroke-width="2.4" fill="none">
<path d="M284.7,1288.7L145,1367"/><path d="M141,1369.4l6,-7.5m-6,7.5l9.5,0"/>
<path d="M380.4,1352.8L359.5,1394"/><path d="M357.8,1398.4l0,-9.5m0,9.5l7,-6.5"/>
</g>
<!-- timeline h -->
<text x="370" y="1481" class="t m">Treatment timeline (years)</text>
<rect x="130" y="1493" width="484" height="22" fill="#d3d3d3" stroke="#000" stroke-width="2.6"/>
<path d="M152,1493v22M174,1493v22M196,1493v22M218,1493v22M240,1493v22M262,1493v22M284,1493v22M306,1493v22M328,1493v22M350,1493v22M372,1493v22M394,1493v22M416,1493v22M438,1493v22M460,1493v22M482,1493v22M504,1493v22M526,1493v22M548,1493v22M570,1493v22M592,1493v22" stroke="#000" stroke-width="2.4"/>
<text x="229" y="1504" class="s m">5</text><text x="339" y="1504" class="s m">10</text><text x="449" y="1504" class="s m">15</text><text x="559" y="1504" class="s m">20</text>
<path d="M130,1517.5H207M305,1517.5H547" stroke="#29bde8" stroke-width="3.4"/>
<path d="M437,1521.5H525" stroke="#ef5a6c" stroke-width="3.4"/><path d="M547,1521.5H613" stroke="#11a050" stroke-width="3.4"/>
<path d="M131,1519V1545M174,1519V1540M612,1523V1540" stroke="#000" stroke-width="2"/>
<g class="s"><text x="153" y="1527" class="s m">ADT</text><text x="371" y="1527" class="s m">ADT</text><text x="482" y="1531" class="s m">Dex</text><text x="580" y="1531" class="s m">Enza</text>
<text x="110" y="1549" class="s m">Diagnostic</text><text x="110" y="1561.5" class="s m">biopsy</text><text x="172" y="1549" class="s m">RT</text><text x="601" y="1549" class="s m">cfDNA</text><text x="601" y="1561.5" class="s m">taken</text></g>

<!-- ================= i ================= -->
<text x="632" y="1153" class="L">i</text>
<text x="910" y="1153" class="t m">FI-150</text>
<g stroke="#000" stroke-width="2.4" fill="none" stroke-linecap="square">
<path d="M652.9,1493V1396.7H658.1M658.1,1396.7V1342.4H675.1M659.5,1396.7V1452M659.5,1452H666.6M661,1396.7V1440H666.6M675.1,1248.9V1393H703.6M703.6,1378.2V1407.3M703.6,1378.2H720.2M703.6,1407.3H717.6M675.1,1248.9H690.6M690.6,1219.8V1277.7M690.6,1219.8H701.7M701.7,1205V1234.6H707.3M690.6,1277.7H868.8M868.8,1263.6V1291.8M868.8,1263.6H978.9M868.8,1291.8H967.8M675.1,1334.6H679.5M679.5,1320.9V1349.8H688M679.5,1320.9H682.5"/>
</g>
<circle cx="653" cy="1493.6" r="6.5" fill="#12a07a"/><circle cx="666.6" cy="1436.3" r="6.5" fill="#d2692a"/><circle cx="666.6" cy="1465.2" r="6.5" fill="#d2692a"/><circle cx="682.5" cy="1320.9" r="6.5" fill="#d2692a"/><circle cx="688" cy="1349.8" r="6.5" fill="#000"/><circle cx="720.2" cy="1378.2" r="6.5" fill="#d2692a"/><circle cx="717.6" cy="1407.3" r="6.5" fill="#d2692a"/><circle cx="704.7" cy="1205.5" r="6.5" fill="#5a4a9f"/><circle cx="707.3" cy="1234.6" r="6.5" fill="#000"/><circle cx="978.9" cy="1263.6" r="6.5" fill="#e8333a"/><circle cx="967.8" cy="1291.8" r="6.5" fill="#e8333a"/>
<g class="s">
<text x="651.8" y="1389.4" class="s m">2</text><text x="663" y="1426" class="s m">1</text><text x="656.6" y="1457.8" class="s m">2</text><text x="667.3" y="1451.5" class="s m">1</text><text x="667.7" y="1336.7" class="s m">6</text><text x="688" y="1386.6" class="s m">11</text><text x="710.2" y="1372.5" class="s m">6</text><text x="708.4" y="1398.8" class="s m">5</text><text x="678.4" y="1309.3" class="s m">1</text><text x="685" y="1338.8" class="s m">3</text><text x="677.7" y="1329.3" class="s m">4</text><text x="684" y="1243" class="s m">6</text><text x="695" y="1212.4" class="s m">4</text><text x="703.6" y="1195" class="s m">1</text><text x="707.3" y="1224" class="s m">2</text><text x="782.3" y="1271.4" class="s m">66</text><text x="925.3" y="1256.7" class="s m">41</text><text x="920.5" y="1285.7" class="s m">37</text>
<text x="663" y="1493" class="s">Diploid</text><text x="676.6" y="1436.3" class="s">L9</text><text x="677.7" y="1465.2" class="s">L10</text><text x="698" y="1320.9" class="s">R6</text><text x="703.6" y="1349.8" class="s">R4</text><text x="736.8" y="1378.2" class="s">R5</text><text x="734.2" y="1407.3" class="s">L8</text><text x="719.5" y="1205.5" class="s">R2</text><text x="724" y="1234.6" class="s">R1</text>
<text x="993.7" y="1263" class="s">cfDNA TP2 (15.3 yrs)</text><text x="967.8" y="1308.3" class="s m">cfDNA</text><text x="969.6" y="1320.9" class="s m">TP1 (14.7 yrs)</text>
</g>
<g class="x">
<text x="867" y="1240" class="x"><tspan class="b i">TP53</tspan><tspan font-size="7" dy="-4">R209fs</tspan></text>
<text x="867" y="1253.6" class="x"><tspan class="i">KLRC2</tspan><tspan font-size="7" dy="-4">P48A</tspan></text>
<text x="728.3" y="1291.4" class="x">WGD</text><text x="728.3" y="1304.7" class="x"><tspan class="i">AR</tspan> amp</text><text x="728.3" y="1317.7" class="x"><tspan class="i">CCND2</tspan> amp</text>
<text x="791" y="1291.4" class="x"><tspan class="i">FANCA</tspan><tspan font-size="7" dy="-4">F726fs</tspan></text>
<text x="781" y="1304.7" class="x"><tspan class="i">DNMT3A</tspan><tspan font-size="7" dy="-4">L805fs</tspan></text>
<text x="803" y="1317.7" class="x"><tspan class="i">PAK2</tspan><tspan font-size="7" dy="-4">K128R</tspan></text>
</g>
<g>
<path d="M977,1191.4H1215M977,1200.4H1215M977,1218.2H1215M977,1227.2H1215" stroke="#eee" stroke-width="0.6"/>
<text x="974" y="1191.4" class="y e">2</text><text x="974" y="1200.4" class="y e">1</text><text x="974" y="1209.3" class="y e">0</text><text x="974" y="1218.2" class="y e">−1</text><text x="974" y="1227.2" class="y e">−2</text>
<text class="x m" transform="translate(954,1209.3) rotate(-90)">log<tspan font-size="7" dy="3">2</tspan><tspan dy="-3"> ratio</tspan></text>
<path d="M978,1209.3H1200" stroke="#b5b5b5" stroke-width="4"/>
<path d="M1103,1205H1110" stroke="#f5a623" stroke-width="4"/>
<path d="M982,1213H986M997,1213H1002M1180,1214H1188M1200,1216H1215" stroke="#3aa8e0" stroke-width="4"/>
<path d="M978,1209.3H1200" stroke="#222" stroke-width="0.8"/>
<text x="1097.9" y="1241.9" class="x m">Chromosomes</text>
</g>
<g>
<path d="M975,1363H1215M975,1371.7H1215M975,1389.1H1215M975,1397.8H1215" stroke="#eee" stroke-width="0.6"/>
<text x="972" y="1363" class="y e">2</text><text x="972" y="1371.7" class="y e">1</text><text x="972" y="1380.4" class="y e">0</text><text x="972" y="1389.1" class="y e">−1</text><text x="972" y="1397.8" class="y e">−2</text>
<text class="x m" transform="translate(953,1380.4) rotate(-90)">log<tspan font-size="7" dy="3">2</tspan><tspan dy="-3"> ratio</tspan></text>
<path d="M976,1381H1010V1379H1050V1381H1090V1378H1110V1381H1150V1379H1200" stroke="#f5a623" stroke-width="4" fill="none"/>
<path d="M1020,1379H1030M1108,1376H1112M1170,1378H1176" stroke="#e05030" stroke-width="2"/>
<path d="M1200,1386H1215" stroke="#aaa" stroke-width="4"/>
<path d="M976,1381H1200" stroke="#222" stroke-width="0.8"/>
<text x="1095.3" y="1410.4" class="x m">Chromosomes</text>
</g>
<g stroke="#45546a" stroke-width="2.4" fill="none">
<path d="M943.8,1213.5L755,1234.2"/><path d="M751.6,1234.6l8.5,-4.5m-8.5,4.5l8.5,4"/>
<path d="M1052,1356.7L988.5,1275"/><path d="M987,1271.4l1.5,9.5m-1.5,-9.5l8.5,4"/>
</g>
<!-- timeline i -->
<text x="1001" y="1445" class="t m">Treatment timeline (years)</text>
<rect x="826.4" y="1459" width="352" height="21" fill="#d3d3d3" stroke="#000" stroke-width="2.6"/>
<path d="M848.4,1459v21M870.4,1459v21M892.4,1459v21M914.4,1459v21M936.4,1459v21M958.4,1459v21M980.4,1459v21M1002.4,1459v21M1024.4,1459v21M1046.4,1459v21M1068.4,1459v21M1090.4,1459v21M1112.4,1459v21M1134.4,1459v21M1156.4,1459v21" stroke="#000" stroke-width="2.4"/>
<text x="925.3" y="1469.5" class="s m">5</text><text x="1035" y="1469.5" class="s m">10</text><text x="1145" y="1469.5" class="s m">15</text>
<path d="M825.5,1482.6H893.1M1035,1482.6H1178.4" stroke="#29bde8" stroke-width="3.4"/>
<path d="M1145.2,1486.6H1178.4" stroke="#ef5a6c" stroke-width="3.4"/>
<path d="M826.6,1484V1505M847,1484V1536M1145,1488V1510M1166,1488V1535" stroke="#000" stroke-width="2"/>
<g class="s"><text x="864.3" y="1493.6" class="s m">ADT</text><text x="1099" y="1493.6" class="s m">ADT</text><text x="1181.4" y="1495.7" class="s">Dex</text>
<text x="817" y="1512" class="s m">Diagnostic</text><text x="817" y="1525" class="s m">biopsy</text><text x="846" y="1543" class="s m">RT</text>
<text x="1142" y="1517" class="s m">cfDNA</text><text x="1142" y="1530" class="s m">taken</text><text x="1165" y="1543" class="s m">cfDNA</text><text x="1165" y="1556" class="s m">taken</text></g>
</svg>
</body></html>
